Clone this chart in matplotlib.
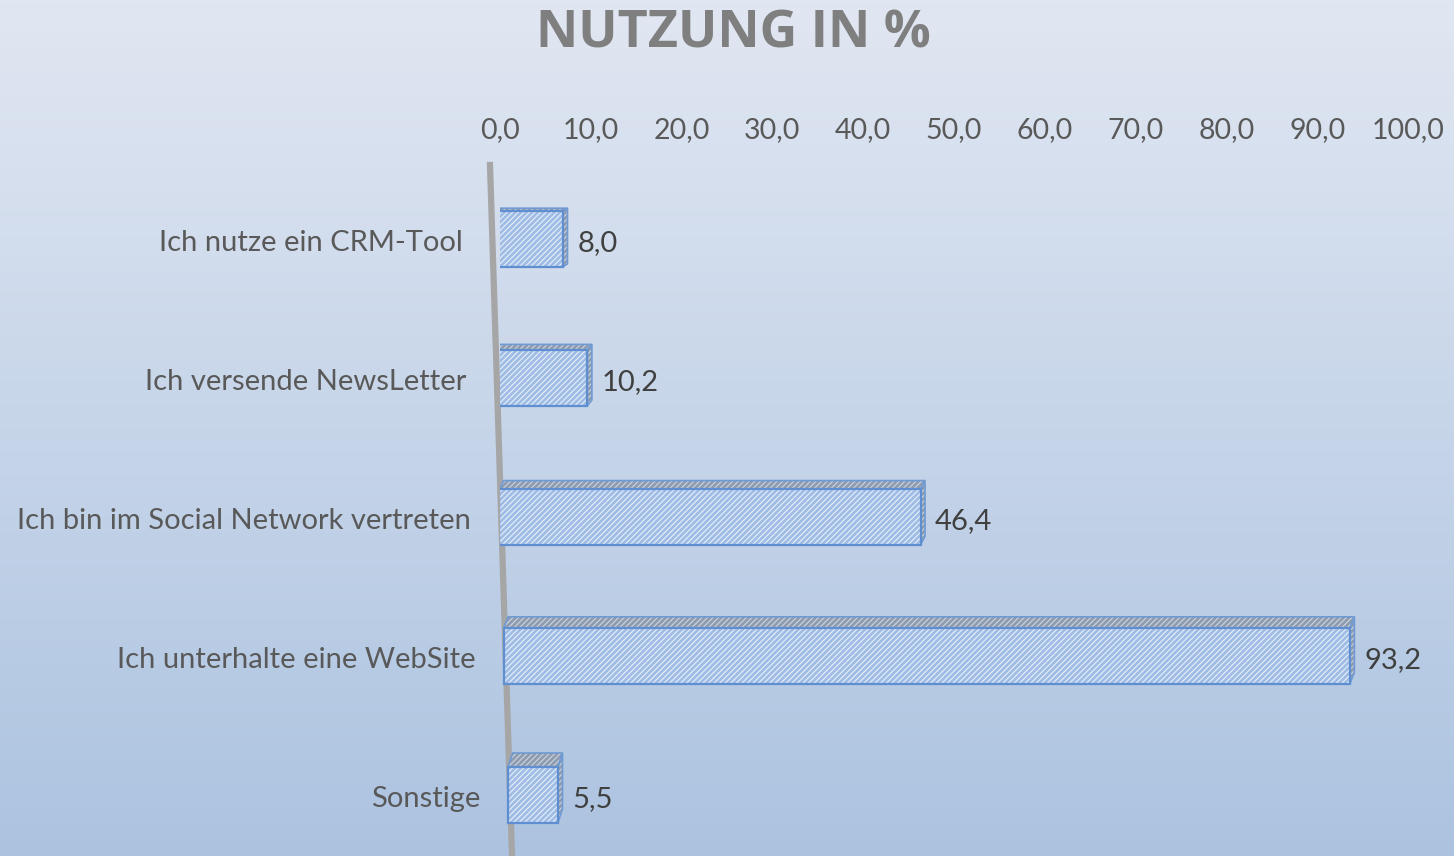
import numpy as np
import matplotlib.pyplot as plt
from matplotlib.patches import Polygon
from matplotlib.lines import Line2D

# data
categories = ["Ich nutze ein CRM-Tool", "Ich versende NewsLetter",
              "Ich bin im Social Network vertreten", "Ich unterhalte eine WebSite",
              "Sonstige"]
values = [8.0, 10.2, 46.4, 93.2, 5.5]
ticks = [0, 10, 20, 30, 40, 50, 60, 70, 80, 90, 100]

W, H = 1454, 856
fig = plt.figure(figsize=(W / 100, H / 100), dpi=100)
plt.rcParams['font.family'] = ['Lato', 'DejaVu Sans']
plt.rcParams['hatch.linewidth'] = 2.0

# gradient background
bg = fig.add_axes([0, 0, 1, 1], zorder=-5)
grad = np.linspace(0, 1, 256)[:, None]
top_c = np.array([225, 231, 242]) / 255
bot_c = np.array([172, 195, 224]) / 255
img = top_c[None, None, :] * (1 - grad[:, :, None]) + bot_c[None, None, :] * grad[:, :, None]
bg.imshow(img, aspect='auto', extent=[0, 1, 0, 1])
bg.axis('off')

# main axes: x 0..100 from px 500 to 1408, y from px 165 to 856
x0_px, x1_px, top_px = 500, 1408, 165
ax = fig.add_axes([x0_px / W, 0, (x1_px - x0_px) / W, 1 - top_px / H])
ax.set_facecolor('none')
px_x = (x1_px - x0_px) / 100.0
row0_px, row_step = 239, 139.0
ax.set_xlim(0, 100)
ax.set_ylim((H - row0_px) / row_step, -(row0_px - top_px) / row_step)
for s in ax.spines.values():
    s.set_visible(False)
ax.xaxis.tick_top()
ax.set_xticks(ticks)
ax.set_xticklabels([f"{t:.1f}".replace('.', ',') for t in ticks])
ax.tick_params(axis='x', length=0, pad=16, labelsize=20.5, labelcolor='#595959')
ax.set_yticks([])

# slanted axis line (perspective)
ax_top = (490, top_px)
ax_bot = (512, H)
fig.add_artist(Line2D([ax_top[0] / W, ax_bot[0] / W], [1 - ax_top[1] / H, 0],
                      color='#a6a6a6', lw=4.5, zorder=0))


def line_x(ypx):
    return ax_top[0] + (ax_bot[0] - ax_top[0]) * (ypx - ax_top[1]) / (ax_bot[1] - ax_top[1])


bar_h = 0.40
txt_dy = 4 / row_step
for i, (cat, v) in enumerate(zip(categories, values)):
    ypx = row0_px + i * row_step
    base = (line_x(ypx) - 2 - x0_px) / px_x
    ddx = 4.5 / px_x
    ddy = (3 + 2.8 * i) / row_step
    yt, yb = i - bar_h / 2, i + bar_h / 2
    xl, xr = base, base + v
    # top and right faces
    top_face = [(xl, yt), (xr, yt), (xr + ddx, yt - ddy), (xl + ddx, yt - ddy)]
    right_face = [(xr, yt), (xr, yb), (xr + ddx, yb - ddy), (xr + ddx, yt - ddy)]
    for pts in (top_face, right_face):
        ax.add_patch(Polygon(pts, closed=True, facecolor='#cbd4e0', edgecolor='#8f9cb0',
                             hatch='//////', lw=0, zorder=2))
        ax.add_patch(Polygon(pts, closed=True, facecolor='none', edgecolor='#6f9ad3',
                             lw=1.2, zorder=3))
    # front face
    front = [(xl, yt), (xr, yt), (xr, yb), (xl, yb)]
    ax.add_patch(Polygon(front, closed=True, facecolor='#e6eefa', edgecolor='#9fbce5',
                         hatch='//////', lw=0, zorder=4))
    ax.add_patch(Polygon(front, closed=True, facecolor='none', edgecolor='#5f8fd0',
                         lw=1.6, zorder=5))
    ax.text(xr + ddx + 10 / px_x, i + txt_dy, f"{v:.1f}".replace('.', ','), ha='left',
            va='center', fontsize=21, color='#404040', zorder=6)
    ax.text(xl - 28 / px_x, i + txt_dy, cat, ha='right', va='center', fontsize=21,
            color='#595959', zorder=6, clip_on=False)

fig.text(0.5 + 6 / W, 1 - 47 / H, "NUTZUNG IN %", ha='center', va='baseline',
         fontsize=37.5, fontweight='bold', color='#7f7f7f', family=['Open Sans', 'DejaVu Sans'])

fig.savefig('out.png', dpi=100)
